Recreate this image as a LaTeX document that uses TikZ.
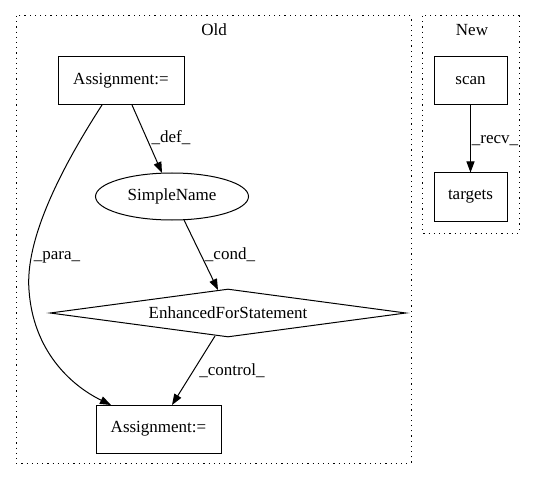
\documentclass[tikz,border=0pt]{standalone}
\usepackage{fontspec}
\setmainfont{Liberation Serif}
\usetikzlibrary{arrows.meta,shapes.geometric}
\begin{document}
\begin{tikzpicture}[x=1bp,y=-1bp,
  every node/.style={font=\fontsize{17bp}{19bp}\selectfont},
  box/.style={draw,line width=1bp,rectangle,inner sep=0pt},
  cluster/.style={draw,line width=1bp,dash pattern=on 1.2bp off 4bp},
  edge/.style={draw,line width=1bp,-{Triangle[length=11bp,width=8bp]}},
  lbl/.style={inner sep=1bp}]
\useasboundingbox (0,0) rectangle (535,480);
% clusters
\draw[cluster] (16,16) rectangle (411,463);
\draw[cluster] (422,16) rectangle (519,233);
\node (oldlbl) at (214,30) {Old};
\node (newlbl) at (472,30) {New};
% old nodes
\node[box,minimum width=126bp,minimum height=48bp] (a1) at (121,81) {Assignment:=};
\node[draw,line width=1bp,ellipse,minimum width=153bp,minimum height=47bp,inner sep=0pt] (sn) at (172,196.5) {SimpleName};
\node[draw,line width=1bp,diamond,aspect=7.4,minimum width=356bp,minimum height=48bp,inner sep=0pt] (efs) at (228,313) {};
\node (efst) at (228,313) {EnhancedForStatement};
\node[box,minimum width=125bp,minimum height=48bp] (a2) at (158.5,429) {Assignment:=};
% new nodes
\node[box,minimum width=73bp,minimum height=48bp] (scan) at (470.5,81) {scan};
\node[box,minimum width=73bp,minimum height=48bp] (tg) at (470.5,197) {targets};
% edges
\coordinate (a1d) at (132,105);
\coordinate (snt) at (162,173);
\draw[edge] (a1d) -- (snt);
\node[lbl] (ldef) at (171,138) {\_def\_};
\coordinate (a1p) at (102,105);
\coordinate (a2p) at (111,405);
\draw[edge] (a1p) .. controls (60,170) and (25,240) .. (29,290) .. controls (33,350) and (70,385) .. (a2p);
\node[lbl] (lpara) at (57,257) {\_para\_};
\coordinate (snb) at (184,220);
\coordinate (efst0) at (218,290);
\draw[edge] (snb) -- (efst0);
\node[lbl] (lcond) at (230,255) {\_cond\_};
\coordinate (efsb) at (215,336);
\coordinate (a2t) at (172,405);
\draw[edge] (efsb) -- (a2t);
\node[lbl] (lctrl) at (232,371) {\_control\_};
\draw[edge] (scan) -- (tg);
\node[lbl] (lrecv) at (495,141) {\_recv\_};
\end{tikzpicture}
\end{document}
